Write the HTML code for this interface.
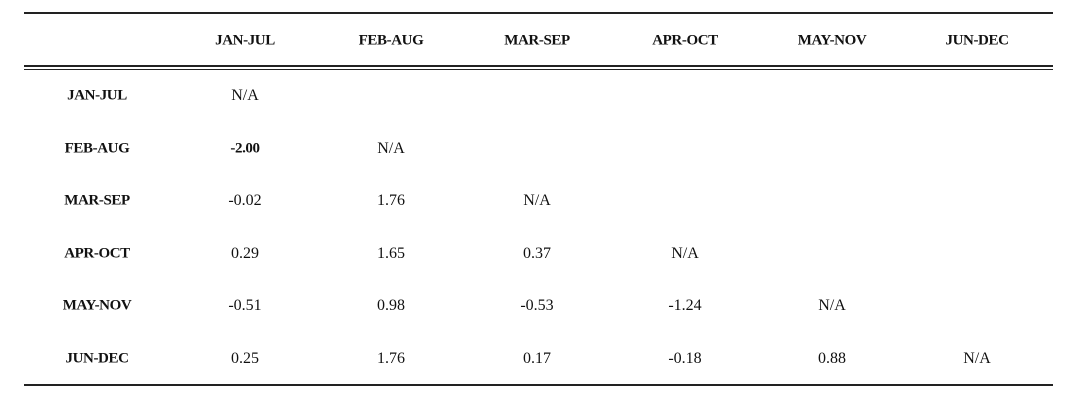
<!DOCTYPE html>
<html><head><style>
body{margin:0;width:1081px;height:408px;background:#fff;position:relative;overflow:hidden;font-family:"Liberation Serif",serif;font-size:16px;color:#111}
.l{position:absolute;left:24px;width:1029px;background:#222}
.t{position:absolute;transform:translate(-50%,-50%);white-space:nowrap}
.b{font-weight:bold;font-size:15px;letter-spacing:-0.4px}
</style></head><body>
<div class="l" style="top:12px;height:2px"></div>
<div class="l" style="top:65px;height:1.5px"></div>
<div class="l" style="top:68.5px;height:1.5px"></div>
<div class="l" style="top:384px;height:2px"></div>
<div class="t b" style="left:245px;top:41px">JAN-JUL</div>
<div class="t b" style="left:391px;top:41px">FEB-AUG</div>
<div class="t b" style="left:537px;top:41px">MAR-SEP</div>
<div class="t b" style="left:685px;top:41px">APR-OCT</div>
<div class="t b" style="left:832px;top:41px">MAY-NOV</div>
<div class="t b" style="left:977px;top:41px">JUN-DEC</div>

<div class="t b" style="left:97px;top:96px">JAN-JUL</div>
<div class="t b" style="left:97px;top:149px">FEB-AUG</div>
<div class="t b" style="left:97px;top:201px">MAR-SEP</div>
<div class="t b" style="left:97px;top:254px">APR-OCT</div>
<div class="t b" style="left:97px;top:306px">MAY-NOV</div>
<div class="t b" style="left:97px;top:359px">JUN-DEC</div>

<div class="t" style="left:245px;top:96px">N/A</div>

<div class="t b" style="left:245px;top:149px">-2.00</div>
<div class="t" style="left:391px;top:149px">N/A</div>

<div class="t" style="left:245px;top:201px">-0.02</div>
<div class="t" style="left:391px;top:201px">1.76</div>
<div class="t" style="left:537px;top:201px">N/A</div>

<div class="t" style="left:245px;top:254px">0.29</div>
<div class="t" style="left:391px;top:254px">1.65</div>
<div class="t" style="left:537px;top:254px">0.37</div>
<div class="t" style="left:685px;top:254px">N/A</div>

<div class="t" style="left:245px;top:306px">-0.51</div>
<div class="t" style="left:391px;top:306px">0.98</div>
<div class="t" style="left:537px;top:306px">-0.53</div>
<div class="t" style="left:685px;top:306px">-1.24</div>
<div class="t" style="left:832px;top:306px">N/A</div>

<div class="t" style="left:245px;top:359px">0.25</div>
<div class="t" style="left:391px;top:359px">1.76</div>
<div class="t" style="left:537px;top:359px">0.17</div>
<div class="t" style="left:685px;top:359px">-0.18</div>
<div class="t" style="left:832px;top:359px">0.88</div>
<div class="t" style="left:977px;top:359px">N/A</div>
</body></html>
